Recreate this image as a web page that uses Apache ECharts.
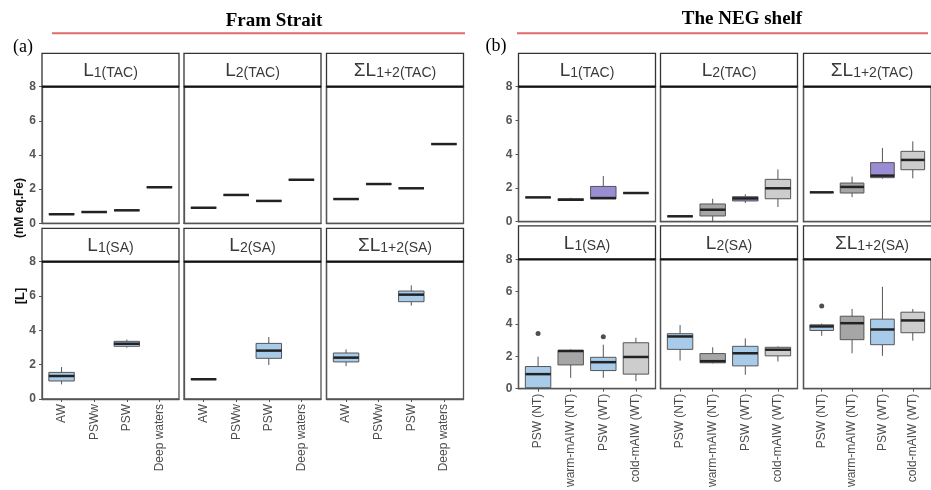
<!DOCTYPE html>
<html><head><meta charset="utf-8">
<script src="https://cdn.jsdelivr.net/npm/echarts@6/dist/echarts.min.js"></script>
<style>html,body{margin:0;padding:0;background:#fff}#chart{width:931px;height:490px}</style>
</head><body><div id="chart"></div>
<script>
// ================= DATA =================
// Each entry: single value (n = 1) or [min, Q1, median, Q3, max]; null = no data
const framCategories = ['AW', 'PSWw', 'PSW', 'Deep waters'];
const negCategories = ['PSW (NT)', 'warm-mAIW (NT)', 'PSW (WT)', 'cold-mAIW (WT)'];

const framL1TAC = [0.53, 0.66, 0.76, 2.11];
const framL2TAC = [0.91, 1.66, 1.31, 2.55];
const framSumTAC = [1.42, 2.30, 2.05, 4.64];
const framL1SA = [[0.85, 1.05, 1.34, 1.55, 1.86], null, [2.99, 3.07, 3.22, 3.36, 3.46], null];
const framL2SA = [1.15, null, [1.98, 2.37, 2.82, 3.24, 3.61], null];
const framSumSA = [[1.92, 2.16, 2.41, 2.68, 2.89], null, [5.44, 5.67, 6.08, 6.29, 6.62], null];

const negL1TAC = [1.44, [1.26, 1.26, 1.30, 1.36, 1.42], [1.36, 1.36, 1.40, 2.09, 2.71], 1.70];
const negL2TAC = [0.32, [0.02, 0.34, 0.71, 1.05, 1.36], [1.11, 1.23, 1.38, 1.48, 1.62], [0.87, 1.36, 1.98, 2.51, 3.10]];
const negSumTAC = [1.74, [1.46, 1.70, 2.06, 2.29, 2.67], [2.55, 2.61, 2.73, 3.50, 4.37], [2.57, 3.08, 3.66, 4.17, 4.76]];
const negL1SA = [[0.06, 0.06, 0.90, 1.37, 1.98], [0.67, 1.47, 2.33, 2.37, 2.43], [0.67, 1.12, 1.64, 1.94, 2.72], [0.47, 0.90, 1.96, 2.84, 3.15]];
const negL2SA = [[1.74, 2.43, 3.23, 3.40, 3.93], [1.56, 1.60, 1.70, 2.17, 2.56], [0.86, 1.41, 2.19, 2.62, 3.11], [1.68, 2.03, 2.41, 2.56, 2.62]];
const negSumSA = [[3.27, 3.60, 3.85, 3.95, 4.03], [2.19, 3.03, 4.05, 4.48, 4.93], [2.03, 2.72, 3.66, 4.30, 6.30], [2.97, 3.46, 4.22, 4.73, 4.93]];
// outliers: [category index, value]
const negL1SAOutliers = [[0, 3.42], [2, 3.21]];
const negSumSAOutliers = [[0, 5.12]];

const stripTAC = [['L', '1(TAC)'], ['L', '2(TAC)'], ['ΣL', '1+2(TAC)']];
const stripSA = [['L', '1(SA)'], ['L', '2(SA)'], ['ΣL', '1+2(SA)']];
const yMin = 0, yMax = 8, yStep = 2;

// ================= STYLE / LAYOUT =================
const BLUE = '#a9cbea', DGREY = '#a6a6a6', LGREY = '#cdcdcd', PURPLE = '#9b8dd3';
const FONT = 'Liberation Sans, Arial, sans-serif';
const SERIF = 'Liberation Serif, Times New Roman, serif';
const FW = 137, STRIP_H = 33.4;

const panels = [
  {
    cats: framCategories,
    lefts: [42, 184, 326.5],
    rows: [{ top: 86.7, h: 136.6 }, { top: 261.7, h: 137.3 }],
    data: [[framL1TAC, framL2TAC, framSumTAC], [framL1SA, framL2SA, framSumSA]],
    outliers: [[null, null, null], [null, null, null]],
    fills: [[BLUE, BLUE, BLUE, BLUE], [BLUE, BLUE, BLUE, BLUE]]
  },
  {
    cats: negCategories,
    lefts: [518.5, 660.5, 803.5],
    rows: [{ top: 86.7, h: 135 }, { top: 259.3, h: 136.4 }],
    data: [[negL1TAC, negL2TAC, negSumTAC], [negL1SA, negL2SA, negSumSA]],
    outliers: [[null, null, null], [negL1SAOutliers, null, negSumSAOutliers]],
    fills: [[LGREY, DGREY, PURPLE, LGREY], [BLUE, DGREY, BLUE, LGREY]]
  }
];
const strips = [stripTAC, stripSA];

function toBox(v) { return typeof v === 'number' ? [v, v, v, v, v] : v; }

function makeRender(fills) {
  return function (params, api) {
    const x = api.value(0);
    const p = [1, 2, 3, 4, 5].map(d => api.coord([x, api.value(d)]));
    const w = api.size([0.78, 0])[0];
    const cx = p[0][0];
    const ls = { stroke: '#555', lineWidth: 1 };
    return {
      type: 'group',
      children: [
        { type: 'line', shape: { x1: cx, y1: p[0][1], x2: cx, y2: p[1][1] }, style: ls },
        { type: 'line', shape: { x1: cx, y1: p[3][1], x2: cx, y2: p[4][1] }, style: ls },
        { type: 'rect', shape: { x: cx - w / 2, y: p[3][1], width: w, height: p[1][1] - p[3][1] },
          style: { fill: fills[params.dataIndex], stroke: '#555', lineWidth: 1 } },
        { type: 'line', shape: { x1: cx - w / 2, y1: p[2][1], x2: cx + w / 2, y2: p[2][1] },
          style: { stroke: '#222', lineWidth: 2.5 } }
      ]
    };
  };
}

const grid = [], xAxis = [], yAxis = [], series = [], graphic = [];
let gi = 0;
panels.forEach(panel => {
  panel.rows.forEach((row, r) => {
    panel.lefts.forEach((left, f) => {
      grid.push({ left: left, top: row.top, width: FW, height: row.h, show: true,
        borderColor: '#555', borderWidth: 1.3, backgroundColor: '#fff', containLabel: false });
      const bottom = r === 1;
      const cats = panel.cats;
      xAxis.push({
        type: 'value', gridIndex: gi, min: -0.6, max: 3.6, position: 'bottom',
        splitLine: { show: false }, axisLine: { show: true, onZero: false, lineStyle: { color: '#555', width: 1.3 } },
        axisTick: { show: bottom, customValues: [0, 1, 2, 3], length: 3, lineStyle: { color: '#555', width: 1 } },
        axisLabel: { show: bottom, customValues: [0, 1, 2, 3], rotate: 90, margin: 5,
          formatter: v => cats[Math.round(v)], color: '#4d4d4d', fontSize: 12, fontFamily: FONT }
      });
      const leftMost = f === 0;
      yAxis.push({
        type: 'value', gridIndex: gi, min: yMin, max: yMax, interval: yStep, position: 'left',
        splitLine: { show: false }, axisLine: { show: true, onZero: false, lineStyle: { color: '#555', width: 1.3 } },
        axisTick: { show: leftMost, length: 3, lineStyle: { color: '#555', width: 1 } },
        axisLabel: { show: leftMost, margin: 6, color: '#555', fontSize: 12, fontWeight: 'bold', fontFamily: FONT }
      });
      const rows = [], fills = [];
      panel.data[r][f].forEach((v, i) => {
        if (v == null) return;
        rows.push([i].concat(toBox(v)));
        fills.push(panel.fills[r][i]);
      });
      series.push({
        type: 'custom', xAxisIndex: gi, yAxisIndex: gi, renderItem: makeRender(fills),
        encode: { x: 0, y: [1, 2, 3, 4, 5] }, data: rows, silent: true, clip: false
      });
      const outs = panel.outliers[r][f];
      if (outs) {
        series.push({ type: 'scatter', xAxisIndex: gi, yAxisIndex: gi, data: outs,
          symbolSize: 5, itemStyle: { color: '#222' }, silent: true });
      }
      // strip
      const st = row.top - STRIP_H;
      const lab = strips[r][f];
      graphic.push({ type: 'rect', z: 100, shape: { x: left, y: st, width: FW, height: STRIP_H },
        style: { fill: '#fff', stroke: '#333', lineWidth: 1.3 } });
      graphic.push({ type: 'line', z: 101, shape: { x1: left, y1: row.top, x2: left + FW, y2: row.top },
        style: { stroke: '#111', lineWidth: 2.2 } });
      graphic.push({ type: 'text', z: 102, x: left + FW / 2, y: st + STRIP_H / 2 + 1,
        style: { text: '{a|' + lab[0] + '}{b|' + lab[1] + '}', align: 'center', verticalAlign: 'middle',
          rich: {
            a: { fontSize: 19, lineHeight: 19, verticalAlign: 'middle', fontFamily: FONT, fill: '#3a3a3a' },
            b: { fontSize: 14, lineHeight: 14, verticalAlign: 'bottom', fontFamily: FONT, fill: '#3a3a3a' }
          } } });
      gi++;
    });
  });
});

// titles
graphic.push(
  { type: 'text', x: 274, y: 21, style: { text: 'Fram Strait', font: 'bold 19px ' + SERIF, fill: '#000', align: 'center', verticalAlign: 'middle' } },
  { type: 'line', shape: { x1: 52, y1: 33.3, x2: 465, y2: 33.3 }, style: { stroke: '#e06b6b', lineWidth: 2 } },
  { type: 'text', x: 742, y: 19.5, style: { text: 'The NEG shelf', font: 'bold 19px ' + SERIF, fill: '#000', align: 'center', verticalAlign: 'middle' } },
  { type: 'line', shape: { x1: 517, y1: 33.3, x2: 928, y2: 33.3 }, style: { stroke: '#e06b6b', lineWidth: 2 } },
  { type: 'text', x: 23, y: 47.5, style: { text: '(a)', font: '18px ' + SERIF, fill: '#000', align: 'center', verticalAlign: 'middle' } },
  { type: 'text', x: 496, y: 46.5, style: { text: '(b)', font: '18px ' + SERIF, fill: '#000', align: 'center', verticalAlign: 'middle' } },
  { type: 'text', x: 20, y: 208, rotation: Math.PI / 2, style: { text: '(nM eq.Fe)', font: 'bold 12px ' + FONT, fill: '#111', align: 'center', verticalAlign: 'middle' } },
  { type: 'text', x: 20, y: 296, rotation: Math.PI / 2, style: { text: '[L]', font: 'bold 13px ' + FONT, fill: '#111', align: 'center', verticalAlign: 'middle' } }
);

const chart = echarts.init(document.getElementById('chart'), null, { renderer: 'canvas' });
chart.setOption({ animation: false, backgroundColor: '#fff', grid, xAxis, yAxis, series, graphic });
</script>
</body></html>
